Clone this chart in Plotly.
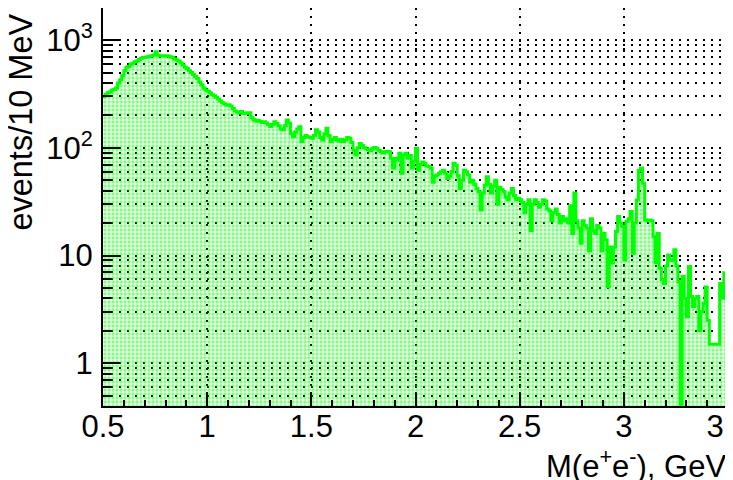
import numpy as np
import plotly.graph_objects as go

# ---- data: events per 10 MeV bin, M(e+e-) from 0.5 to 3.5 GeV ----
x_min = 0.5
bin_width = 0.01
counts = [
    # 0.50-0.60
    300, 315, 325, 330, 345, 350, 360, 400, 430, 470,
    # 0.60-0.70
    520, 560, 570, 600, 610, 630, 640, 660, 680, 690,
    # 0.70-0.80
    695, 700, 710, 715, 730, 780, 725, 715, 718, 712,
    # 0.80-0.90
    715, 712, 700, 690, 670, 655, 640, 615, 590, 560,
    # 0.90-1.00
    545, 520, 500, 480, 460, 440, 410, 385, 360, 345,
    # 1.00-1.10
    335, 325, 312, 305, 295, 285, 272, 262, 255, 250,
    # 1.10-1.20
    252, 245, 232, 220, 215, 212, 218, 210, 208, 212,
    # 1.20-1.30
    212, 190, 182, 178, 180, 176, 172, 175, 170, 165,
    # 1.30-1.40
    158, 165, 175, 168, 160, 150, 147, 160, 181, 170,
    # 1.40-1.50
    135, 127, 140, 150, 157, 114, 125, 130, 127, 125,
    # 1.50-1.60
    123, 130, 147, 140, 125, 118, 135, 152, 130, 114,
    # 1.60-1.70
    120, 125, 118, 115, 120, 114, 118, 125, 123, 112,
    # 1.70-1.80
    95, 86, 100, 110, 105, 100, 98, 96, 94, 99,
    # 1.80-1.90
    101, 99, 95, 92, 90, 92, 93, 92, 80, 65,
    # 1.90-2.00
    80, 77, 89, 58, 86, 89, 80, 85, 65, 75,
    # 2.00-2.10
    99, 62, 70, 74, 72, 68, 67, 65, 48, 55,
    # 2.10-2.20
    56, 58, 60, 62, 58, 52, 55, 60, 72, 69,
    # 2.20-2.30
    55, 42, 50, 62, 60, 56, 48, 50, 46, 42,
    # 2.30-2.40
    39, 26.5, 38, 45, 54, 46, 38, 44, 50, 30,
    # 2.40-2.50
    43, 41, 39, 35, 33, 38, 42, 36, 33, 34,
    # 2.50-2.60
    33, 31, 25, 30, 33, 17, 30, 33, 31, 28,
    # 2.60-2.70
    30, 33, 32, 27, 26, 21, 25, 27, 24, 20,
    # 2.70-2.80
    23, 21, 22, 20, 29, 16, 38, 21, 18, 13,
    # 2.80-2.90
    21, 19, 18, 11, 22, 17, 16, 19, 18, 11,
    # 2.90-3.00
    16, 14, 5.1, 12, 8.5, 12, 16.7, 23, 20, 18.6,
    # 3.00-3.10
    9.1, 20.7, 22, 25.6, 10.5, 20, 32.8, 62, 65, 47,
    # 3.10-3.20
    21.4, 21, 21.4, 21, 15, 8.5, 16, 7.6, 6, 5.5,
    # 3.20-3.30
    8, 10.1, 9.1, 9, 11.3, 8, 5.7, 0, 6.4, 4,
    # 3.30-3.40
    2.7, 7.9, 4.15, 3.35, 4, 4.15, 2, 3, 3.6, 5.1,
    # 3.40-3.50
    2.5, 1.5, 1.5, 1.5, 1.5, 1.5, 5.5, 4, 6.9, 6.9,
]

x_tick_vals = [0.5, 1, 1.5, 2, 2.5, 3, 3.5]
x_tick_text = ["0.5", "1", "1.5", "2", "2.5", "3", "3.5"]
y_tick_vals = [1, 10, 100, 1000]
y_tick_text = ["1", "10", "10<sup>2</sup>", "10<sup>3</sup>"]
x_title = "M(e<sup>+</sup>e<sup>-</sup>), GeV"
y_title = "events/10 MeV"

# ---- derived ----
counts = np.array(counts, dtype=float)
n_bins = len(counts)
low_edges = x_min + bin_width * np.arange(n_bins)
centers = low_edges + bin_width / 2
# zero bins drop to the bottom of the log axis
draw_vals = np.where(counts > 0, counts, 1e-3)
step_x = np.append(low_edges, x_min + bin_width * n_bins)
step_y = np.append(draw_vals, draw_vals[-1])

minor_y = [k * 10.0 ** d for d in range(-1, 4) for k in range(2, 10)]

GREEN = "#00ff00"
grid_dash = "2px,6px"
FS = 31

fig = go.Figure()
fig.add_trace(go.Bar(
    x=centers, y=counts, width=bin_width,
    marker=dict(color="rgba(0,0,0,0)", line=dict(width=0),
                pattern=dict(shape=".", fgcolor=GREEN, bgcolor="rgba(0,0,0,0)",
                             size=4, solidity=0.6)),
    hoverinfo="skip",
))
fig.add_trace(go.Scatter(
    x=step_x, y=step_y, mode="lines",
    line=dict(color=GREEN, width=3, shape="hv"),
    hoverinfo="skip",
))

font_family = "Liberation Sans, Arial, Helvetica, sans-serif"
# the page body adds an ~8px offset, margins compensate for it
fig.update_layout(
    width=733, height=480,
    margin=dict(l=95, r=13, t=0, b=82, autoexpand=False),
    plot_bgcolor="white", paper_bgcolor="white",
    bargap=0, showlegend=False,
    font=dict(family=font_family, size=FS, color="black"),
    xaxis=dict(
        range=[0.5, 3.5], tickmode="array", tickvals=x_tick_vals, ticktext=x_tick_text,
        ticks="inside", ticklen=13, tickwidth=1.5, tickcolor="black",
        showline=True, linewidth=2, linecolor="black", mirror=True,
        showgrid=True, gridcolor="black", gridwidth=1.5, griddash=grid_dash,
        zeroline=False, ticklabelstandoff=-8, automargin=False,
        ticklabeloverflow="allow",
        minor=dict(dtick=0.1, tick0=0.5, ticks="inside", ticklen=6, tickwidth=1.5,
                   tickcolor="black", showgrid=False),
    ),
    yaxis=dict(
        type="log", range=[np.log10(0.4), 3.299],
        tickmode="array", tickvals=y_tick_vals, ticktext=y_tick_text,
        ticks="inside", ticklen=17, tickwidth=1.5, tickcolor="black",
        showline=True, linewidth=2, linecolor="black", mirror=True,
        showgrid=True, gridcolor="black", gridwidth=1.5, griddash=grid_dash,
        zeroline=False, ticklabelstandoff=2, automargin=False,
        ticklabeloverflow="allow",
        minor=dict(tickmode="array", tickvals=minor_y, ticks="inside", ticklen=8,
                   tickwidth=1.5, tickcolor="black", showgrid=True,
                   gridcolor="black", gridwidth=1.5, griddash=grid_dash),
    ),
    annotations=[
        dict(text=x_title, xref="paper", yref="paper", x=1.0, y=-0.145,
             xanchor="right", yanchor="middle", showarrow=False,
             font=dict(size=FS)),
        dict(text=y_title, xref="paper", yref="paper", x=-0.131, y=0.99,
             xanchor="center", yanchor="top", textangle=-90, showarrow=False,
             font=dict(size=32.5)),
    ],
)

fig.write_html("out.html")
